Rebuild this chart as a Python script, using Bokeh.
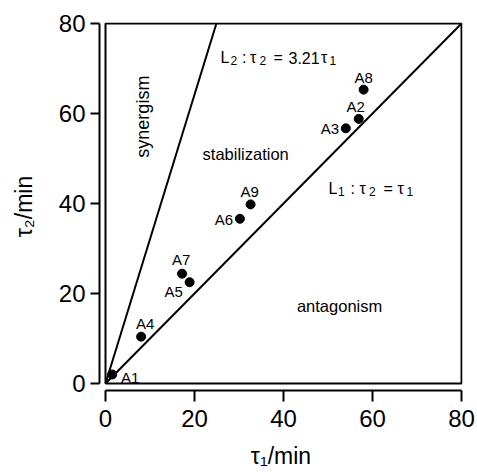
from math import pi
from bokeh.plotting import figure
from bokeh.models import Range1d, FixedTicker, ColumnDataSource, Label
from bokeh.core.properties import value
from bokeh.embed import file_html
from bokeh.resources import INLINE

# ---- data ----
names = ["A1", "A2", "A3", "A4", "A5", "A6", "A7", "A8", "A9"]
tau1 = [1.5, 56.9, 54.0, 8.0, 18.9, 30.2, 17.2, 58.0, 32.6]
tau2 = [2.0, 58.8, 56.7, 10.4, 22.5, 36.6, 24.4, 65.3, 39.8]
ticks = [0, 20, 40, 60, 80]
axis_max = 80
slope_L1 = 1.0
slope_L2 = 3.21

region_names = ["synergism", "stabilization", "antagonism"]
region_x = [8.5, 31.5, 52.6]
region_y = [59.3, 50.9, 17.3]

x_title = "\u03c4\u2081/min"
y_title = "\u03c4\u2082/min"

# line equations, split into (text, is_subscript) pieces
L2_parts = ["L", "2", ":", "\u03c4", "2", "=", "3.21", "\u03c4", "1"]
L2_sub = [0, 1, 0, 0, 1, 0, 0, 0, 1]
L1_parts = ["L", "1", ":", "\u03c4", "2", "=", "\u03c4", "1"]
L1_sub = [0, 1, 0, 0, 1, 0, 0, 1]

# ---- styles / positions ----
L2_anchor = (25.84, 72.44)
L2_dx = [0, 10, 21.5, 29.5, 39, 53, 68, 100.5, 109]
L1_anchor = (50.11, 43.27)
L1_dx = [0, 9.5, 22, 31, 40.5, 55, 69, 78]

label_dx = {"A1": 18, "A2": -3, "A3": -16, "A4": 4, "A5": -16, "A6": -16, "A7": -1, "A8": 0, "A9": -1}
label_dy = {"A1": 3, "A2": -12, "A3": 0, "A4": -13, "A5": 9, "A6": 1, "A7": -14, "A8": -12, "A9": -13}

FONT = "Liberation Sans"

p = figure(width=477, height=472, output_backend="svg", toolbar_location=None,
           x_range=Range1d(-1.35, 80.22), y_range=Range1d(-1.56, 80.22),
           min_border_left=99, min_border_right=15, min_border_top=22, min_border_bottom=82)
p.outline_line_color = None
p.grid.visible = False
p.background_fill_color = "white"

for ax in (p.xaxis[0], p.yaxis[0]):
    ax.ticker = FixedTicker(ticks=ticks)
    ax.bounds = (0, axis_max)
    ax.minor_tick_line_color = None
    ax.major_tick_in = 0
    ax.axis_line_width = 2
    ax.major_tick_line_width = 2
    ax.major_label_text_font = FONT
    ax.major_label_text_font_size = "24px"
    ax.major_label_text_color = "black"
    ax.axis_label_text_font = FONT
    ax.axis_label_text_font_size = "23px"
    ax.axis_label_text_font_style = "normal"
    ax.axis_label_text_color = "black"

p.xaxis[0].major_tick_out = 11
p.xaxis[0].major_label_standoff = 8
p.xaxis[0].axis_label = x_title
p.xaxis[0].axis_label_standoff = 13
p.yaxis[0].major_tick_out = 9
p.yaxis[0].major_label_standoff = 5
p.yaxis[0].axis_label = y_title
p.yaxis[0].axis_label_standoff = 19

# plot box
p.line([0, axis_max, axis_max, 0, 0], [0, 0, axis_max, axis_max, 0], line_color="black", line_width=2)
# L1 and L2
p.line([0, axis_max / slope_L1], [0, axis_max], line_color="black", line_width=2)
p.line([0, axis_max / slope_L2], [0, axis_max], line_color="black", line_width=2)

src = ColumnDataSource(dict(x=tau1, y=tau2, name=names,
                            dx=[label_dx[n] for n in names], dy=[label_dy[n] for n in names]))
p.scatter("x", "y", source=src, size=9, color="black")
p.text("x", "y", text="name", source=src, x_offset="dx", y_offset="dy",
       text_font=value(FONT), text_font_size="15px", text_align="center", text_baseline="middle",
       text_color="black")

p.text(region_x, region_y, text=region_names, angle=[pi / 2, 0, 0],
       text_font=value(FONT), text_font_size=["18px", "16.5px", "16.5px"],
       text_align="center", text_baseline="middle", text_color="black")


def compose(parts, subs, dxs, anchor, size, sub_size, sub_drop):
    for t, s, d in zip(parts, subs, dxs):
        lab = Label(x=anchor[0], y=anchor[1], text=t, x_offset=d, y_offset=-(sub_drop if s else 0),
                    text_font=FONT, text_font_size=(sub_size if s else size),
                    text_baseline="alphabetic", text_align="left", text_color="black")
        p.add_layout(lab)


compose(L2_parts, L2_sub, L2_dx, L2_anchor, "16px", "12px", 3)
compose(L1_parts, L1_sub, L1_dx, L1_anchor, "16px", "12px", 3)

open("out.html", "w").write(file_html(p, INLINE))
